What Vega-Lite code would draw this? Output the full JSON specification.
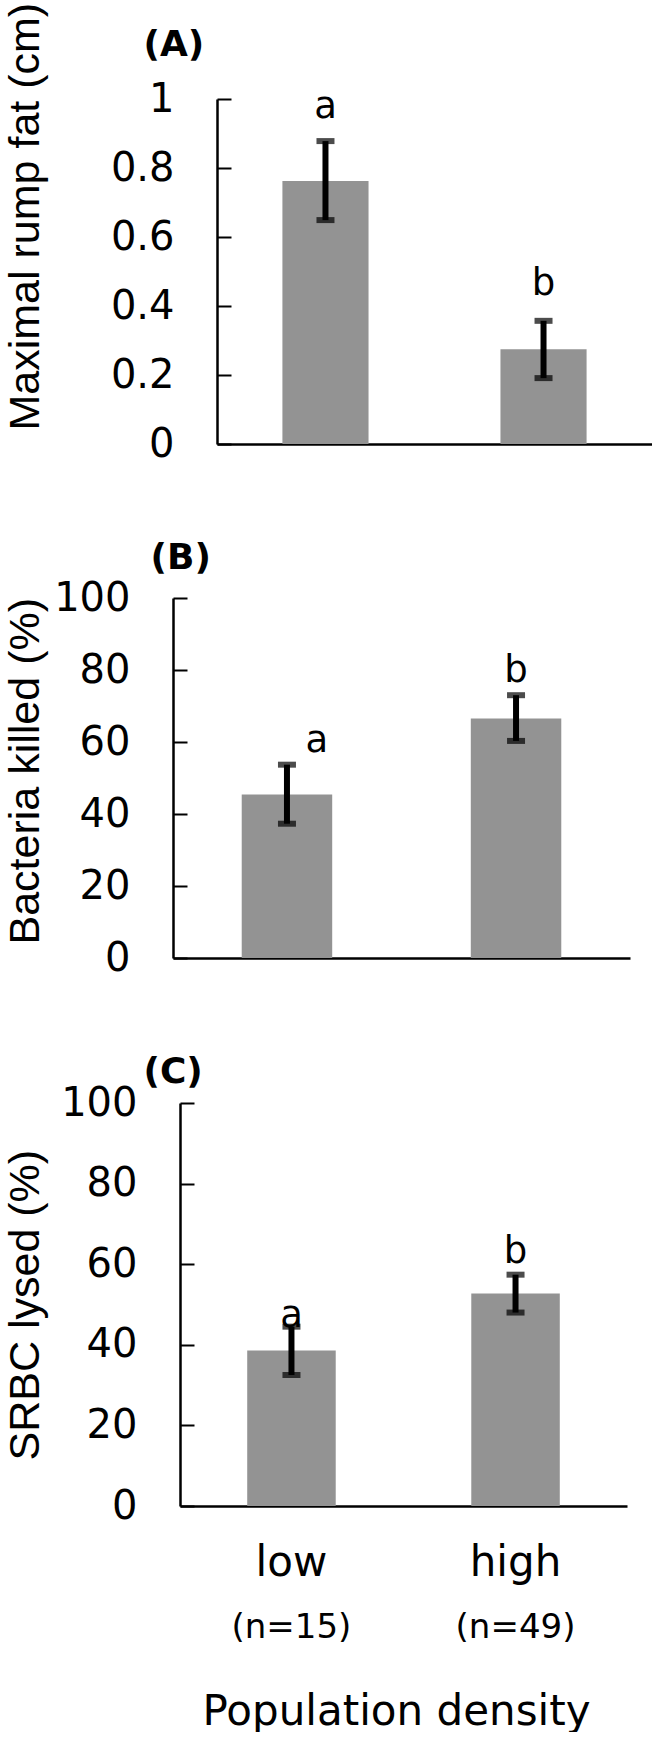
{
  "$schema": "https://vega.github.io/schema/vega-lite/v6.json",
  "padding": {"left": 4, "top": 2, "right": 0, "bottom": 0},
  "background": "white",
  "spacing": 75,
  "data": {
    "values": [
      {"panel": "A", "density": "low", "mean": 0.762, "lo": 0.649, "hi": 0.878, "letter": "a", "n_label": "(n=15)"},
      {"panel": "A", "density": "high", "mean": 0.275, "lo": 0.191, "hi": 0.357, "letter": "b", "n_label": "(n=49)"},
      {"panel": "B", "density": "low", "mean": 45.4, "lo": 37.3, "hi": 53.7, "letter": "a", "n_label": "(n=15)"},
      {"panel": "B", "density": "high", "mean": 66.5, "lo": 60.3, "hi": 73.0, "letter": "b", "n_label": "(n=49)"},
      {"panel": "C", "density": "low", "mean": 38.6, "lo": 32.5, "hi": 44.5, "letter": "a", "n_label": "(n=15)"},
      {"panel": "C", "density": "high", "mean": 52.7, "lo": 48.0, "hi": 57.4, "letter": "b", "n_label": "(n=49)"}
    ]
  },
  "config": {
    "view": {"stroke": null},
    "scale": {"bandPaddingInner": 0.605, "bandPaddingOuter": 0.3},
    "axis": {
      "grid": false,
      "domainColor": "black",
      "domainWidth": 2.5,
      "tickColor": "black",
      "tickWidth": 2,
      "labelColor": "black",
      "titleColor": "black",
      "labelFont": "DejaVu Sans",
      "titleFont": "Liberation Sans",
      "titleFontWeight": "normal"
    },
    "text": {"font": "DejaVu Sans", "color": "black"}
  },
  "vconcat": [
    {
      "width": 479,
      "height": 345,
      "transform": [{"filter": "datum.panel === 'A'"}],
      "layer": [
        {
          "layer": [
            {
              "mark": {"type": "bar", "color": "#939393"},
              "encoding": {
                "x": {"field": "density", "type": "nominal", "sort": ["low", "high"],
                  "scale": {"range": [44, 479]},
                  "axis": {"orient": "bottom", "labels": false, "title": null, "tickSize": -11}},
                "y": {"field": "mean", "type": "quantitative", "scale": {"domain": [0, 1], "nice": false},
                  "title": "Maximal rump fat (cm)",
                  "axis": {"orient": "left", "offset": -44, "values": [0, 0.2, 0.4, 0.6, 0.8, 1], "format": "~g", "tickSize": -14,
                    "labelPadding": 57, "labelFontSize": 40,
                    "titleFontSize": 43, "titleAngle": -90,
                    "titleAlign": "left", "titleBaseline": "bottom", "titleX": -170, "titleY": 331}}
              }
            },
            {
              "mark": {"type": "errorbar", "ticks": true, "size": 18, "thickness": 6, "color": "black"},
              "encoding": {
                "x": {"field": "density", "type": "nominal", "sort": ["low", "high"]},
                "y": {"field": "lo", "type": "quantitative", "title": "Maximal rump fat (cm)"},
                "y2": {"field": "hi"}
              }
            },
            {
              "transform": [{"filter": "datum.letter === 'b'"}],
              "mark": {"type": "text", "fontSize": 37, "baseline": "alphabetic", "dy": -26},
              "encoding": {
                "x": {"field": "density", "type": "nominal", "sort": ["low", "high"]},
                "y": {"field": "hi", "type": "quantitative", "title": "Maximal rump fat (cm)"},
                "text": {"field": "letter"}
              }
            }
          ]
        },
        {
          "transform": [{"filter": "datum.letter === 'a'"}],
          "mark": {"type": "text", "fontSize": 37, "baseline": "alphabetic", "dy": -23},
          "encoding": {
            "x": {"field": "density", "type": "nominal",
              "scale": {"type": "band", "domain": ["low", "high"], "range": [44, 479], "paddingInner": 0.605, "paddingOuter": 0.3},
              "axis": {"orient": "top", "domain": false, "ticks": false, "labels": false,
                "title": "(A)", "titleFont": "DejaVu Sans", "titleFontWeight": "bold", "titleFontSize": 36,
                "titleAngle": 0, "titleAlign": "left", "titleBaseline": "alphabetic", "titleX": -30, "titleY": -44}},
            "y": {"field": "hi", "type": "quantitative", "title": "Maximal rump fat (cm)"},
            "text": {"field": "letter"}
          }
        }
      ],
      "resolve": {"scale": {"x": "independent"}}
    },
    {
      "width": 457,
      "height": 360,
      "transform": [{"filter": "datum.panel === 'B'"}],
      "layer": [
        {
          "layer": [
            {
              "mark": {"type": "bar", "color": "#939393"},
              "encoding": {
                "x": {"field": "density", "type": "nominal", "sort": ["low", "high"],
                  "axis": {"orient": "bottom", "labels": false, "title": null, "tickSize": -11}},
                "y": {"field": "mean", "type": "quantitative", "scale": {"domain": [0, 100], "nice": false},
                  "title": "Bacteria killed (%)",
                  "axis": {"orient": "left", "values": [0, 20, 40, 60, 80, 100], "tickSize": -14,
                    "labelPadding": 57, "labelFontSize": 40,
                    "titleFontSize": 43, "titleAngle": -90,
                    "titleAlign": "left", "titleBaseline": "bottom", "titleX": -126, "titleY": 346}}
              }
            },
            {
              "mark": {"type": "errorbar", "ticks": true, "size": 18, "thickness": 6, "color": "black"},
              "encoding": {
                "x": {"field": "density", "type": "nominal", "sort": ["low", "high"]},
                "y": {"field": "lo", "type": "quantitative", "title": "Bacteria killed (%)"},
                "y2": {"field": "hi"}
              }
            },
            {
              "transform": [{"filter": "datum.letter === 'b'"}],
              "mark": {"type": "text", "fontSize": 37, "baseline": "alphabetic", "dy": -13},
              "encoding": {
                "x": {"field": "density", "type": "nominal", "sort": ["low", "high"]},
                "y": {"field": "hi", "type": "quantitative", "title": "Bacteria killed (%)"},
                "text": {"field": "letter"}
              }
            }
          ]
        },
        {
          "transform": [{"filter": "datum.letter === 'a'"}],
          "mark": {"type": "text", "fontSize": 37, "baseline": "alphabetic", "dy": -13, "dx": 30},
          "encoding": {
            "x": {"field": "density", "type": "nominal",
              "scale": {"type": "band", "domain": ["low", "high"], "paddingInner": 0.605, "paddingOuter": 0.3},
              "axis": {"orient": "top", "domain": false, "ticks": false, "labels": false,
                "title": "(B)", "titleFont": "DejaVu Sans", "titleFontWeight": "bold", "titleFontSize": 36,
                "titleAngle": 0, "titleAlign": "left", "titleBaseline": "alphabetic", "titleX": -23, "titleY": -30}},
            "y": {"field": "hi", "type": "quantitative", "title": "Bacteria killed (%)"},
            "text": {"field": "letter"}
          }
        }
      ],
      "resolve": {"scale": {"x": "independent"}}
    },
    {
      "width": 454,
      "height": 403,
      "transform": [{"filter": "datum.panel === 'C'"}],
      "layer": [
        {
          "layer": [
            {
              "mark": {"type": "bar", "color": "#939393"},
              "encoding": {
                "x": {"field": "density", "type": "nominal", "sort": ["low", "high"],
                  "scale": {"range": [7, 454]},
                  "axis": {"orient": "bottom", "tickSize": -11, "labelFontSize": 42, "labelPadding": 47, "labelAngle": 0,
                    "title": "Population density", "titleFont": "DejaVu Sans", "titleFontSize": 42,
                    "titleAlign": "center", "titleBaseline": "alphabetic", "titleX": 223, "titleY": 218}},
                "y": {"field": "mean", "type": "quantitative", "scale": {"domain": [0, 100], "nice": false},
                  "title": "SRBC lysed (%)",
                  "axis": {"orient": "left", "offset": -7, "values": [0, 20, 40, 60, 80, 100], "tickSize": -14,
                    "labelPadding": 57, "labelFontSize": 40,
                    "titleFontSize": 43, "titleAngle": -90,
                    "titleAlign": "left", "titleBaseline": "bottom", "titleX": -133, "titleY": 357}}
              }
            },
            {
              "mark": {"type": "errorbar", "ticks": true, "size": 18, "thickness": 6, "color": "black"},
              "encoding": {
                "x": {"field": "density", "type": "nominal", "sort": ["low", "high"]},
                "y": {"field": "lo", "type": "quantitative", "title": "SRBC lysed (%)"},
                "y2": {"field": "hi"}
              }
            },
            {
              "transform": [{"filter": "datum.letter === 'b'"}],
              "mark": {"type": "text", "fontSize": 37, "baseline": "alphabetic", "dy": -12},
              "encoding": {
                "x": {"field": "density", "type": "nominal", "sort": ["low", "high"]},
                "y": {"field": "hi", "type": "quantitative", "title": "SRBC lysed (%)"},
                "text": {"field": "letter"}
              }
            },
            {
              "mark": {"type": "text", "fontSize": 34, "baseline": "alphabetic", "dy": 132},
              "encoding": {
                "x": {"field": "density", "type": "nominal", "sort": ["low", "high"]},
                "y": {"datum": 0, "type": "quantitative"},
                "text": {"field": "n_label"}
              }
            }
          ]
        },
        {
          "transform": [{"filter": "datum.letter === 'a'"}],
          "mark": {"type": "text", "fontSize": 37, "baseline": "alphabetic", "dy": 0},
          "encoding": {
            "x": {"field": "density", "type": "nominal",
              "scale": {"type": "band", "domain": ["low", "high"], "range": [7, 454], "paddingInner": 0.605, "paddingOuter": 0.3},
              "axis": {"orient": "top", "domain": false, "ticks": false, "labels": false,
                "title": "(C)", "titleFont": "DejaVu Sans", "titleFontWeight": "bold", "titleFontSize": 36,
                "titleAngle": 0, "titleAlign": "left", "titleBaseline": "alphabetic", "titleX": -30, "titleY": -21}},
            "y": {"field": "hi", "type": "quantitative", "title": "SRBC lysed (%)"},
            "text": {"field": "letter"}
          }
        }
      ],
      "resolve": {"scale": {"x": "independent"}}
    }
  ]
}
